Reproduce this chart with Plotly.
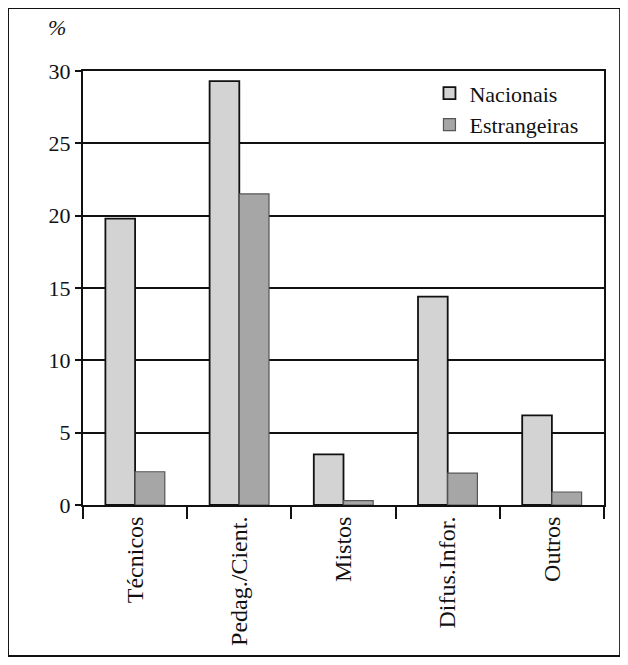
import plotly.graph_objects as go

categories = ["Técnicos", "Pedag./Cient.", "Mistos", "Difus.Infor.", "Outros"]
nacionais = [19.8, 29.3, 3.5, 14.4, 6.2]
estrangeiras = [2.3, 21.5, 0.3, 2.2, 0.9]
y_ticks = [0, 5, 10, 15, 20, 25, 30]

FONT = "Liberation Serif"

fig = go.Figure()
fig.add_trace(go.Bar(x=categories, y=nacionais, name="Nacionais",
                     marker=dict(color="#d3d3d3", line=dict(color="#111111", width=1.8))))
fig.add_trace(go.Bar(x=categories, y=estrangeiras, name="Estrangeiras",
                     marker=dict(color="#a6a6a6", line=dict(color="#555555", width=1.2))))

fig.update_layout(
    width=628, height=665,
    margin=dict(l=75, r=32, t=63, b=168),
    paper_bgcolor="white", plot_bgcolor="white",
    barmode="group", bargap=0.43, bargroupgap=0,
    font=dict(family=FONT, color="#111111", size=22),
    showlegend=True,
    legend=dict(x=0.665, y=0.997, xanchor="left", yanchor="top",
                bgcolor="rgba(255,255,255,0)", font=dict(family=FONT, size=22),
                itemwidth=30, tracegroupgap=0),
    xaxis=dict(showline=True, linecolor="#111111", linewidth=2, mirror=True,
               ticks="outside", tickson="boundaries", ticklen=12, tickwidth=2,
               tickcolor="#111111", tickangle=-90, showgrid=False,
               tickfont=dict(family=FONT, size=24)),
    yaxis=dict(range=[0, 30], tickvals=y_ticks, showline=True, linecolor="#111111",
               linewidth=2, mirror=True, ticks="outside", ticklen=6, tickwidth=2,
               tickcolor="#111111", showgrid=True, gridcolor="#111111", gridwidth=2,
               zeroline=False, tickfont=dict(family=FONT, size=22)),
    annotations=[dict(text="<i>%</i>", xref="paper", yref="paper", x=-0.05, y=1.1,
                      xanchor="center", yanchor="middle", showarrow=False,
                      font=dict(family=FONT, size=22))],
    shapes=[dict(type="rect", xref="paper", yref="paper", x0=-0.144, x1=1.031,
                 y0=-0.348, y1=1.145, line=dict(color="#111111", width=2))],
)

fig.write_html("out.html")
